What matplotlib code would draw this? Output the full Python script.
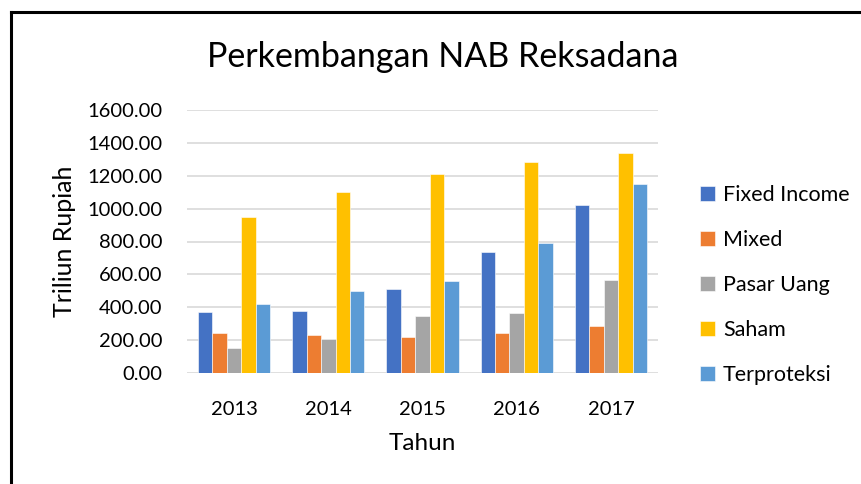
import matplotlib.pyplot as plt
from matplotlib.lines import Line2D
import numpy as np

plt.rcParams['font.family'] = ['Lato', 'DejaVu Sans']

years = ["2013", "2014", "2015", "2016", "2017"]
fixed_income = [373, 375, 509, 734, 1024]
mixed = [241, 233, 219, 246, 284]
pasar_uang = [154, 205, 349, 367, 564]
saham = [947, 1103, 1209, 1286, 1336]
terproteksi = [420, 497, 562, 789, 1150]

series_names = ["Fixed Income", "Mixed", "Pasar Uang", "Saham", "Terproteksi"]
colors = ["#4472C4", "#ED7D31", "#A5A5A5", "#FFC000", "#5B9BD5"]

W, H = 861, 484
fig = plt.figure(figsize=(W / 100, H / 100), dpi=100)
ax = fig.add_axes([187 / W, 1 - 373 / H, 471 / W, 263 / H])

all_series = [fixed_income, mixed, pasar_uang, saham, terproteksi]
x = np.arange(len(years))
bw = 0.153
for i, (vals, name, c) in enumerate(zip(all_series, series_names, colors)):
    ax.bar(x + (i - 2) * bw, vals, width=bw, color=c, label=name,
           edgecolor="white", linewidth=0.4, zorder=3)

ax.set_xlim(-0.5, len(years) - 0.5)
ax.set_ylim(0, 1600)
ax.set_yticks(range(0, 1601, 200))
ax.set_yticklabels([f"{v:.2f}" for v in range(0, 1601, 200)])
ax.set_xticks(x)
ax.set_xticklabels(years)
ax.grid(axis="y", color="#d9d9d9", linewidth=1.2, zorder=0)
for s in ax.spines.values():
    s.set_visible(False)
ax.tick_params(length=0, labelsize=14.5, colors="#000000")
ax.tick_params(axis="x", pad=20)
ax.tick_params(axis="y", pad=18)

ax.set_xlabel("Tahun", fontsize=17.5, labelpad=11)
ax.set_ylabel("Triliun Rupiah", fontsize=18, labelpad=8)
fig.text(443 / W, 1 - 57 / H, "Perkembangan NAB Reksadana", fontsize=24.5,
         ha="center", va="center")

fig.legend(loc="center left", bbox_to_anchor=(681 / W, 1 - 285 / H),
           frameon=False, fontsize=15.5, handlelength=0.7, handleheight=0.7,
           handletextpad=0.35, labelspacing=1.17)

# frame around the chart area
fig.add_artist(Line2D([11 / W, 1], [1 - 12 / H, 1 - 12 / H], color="black", linewidth=2.2))
fig.add_artist(Line2D([11 / W, 11 / W], [0, 1 - 12 / H], color="black", linewidth=2.2))

fig.savefig("out.png", dpi=100)
